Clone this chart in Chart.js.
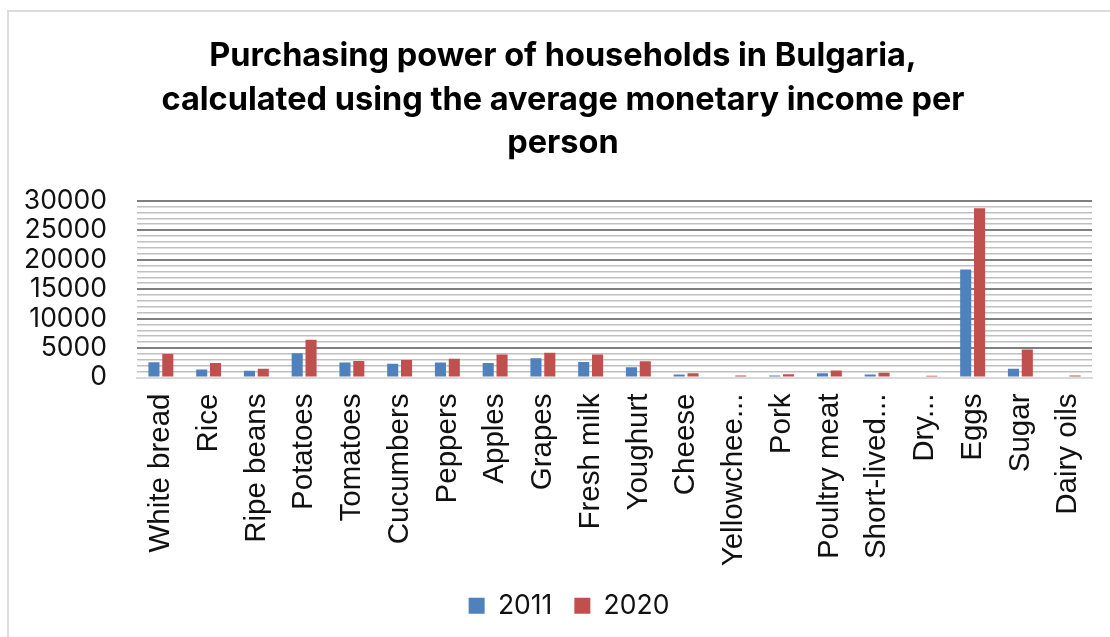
<!DOCTYPE html>
<html>
<head>
<meta charset="utf-8">
<script src="https://cdn.jsdelivr.net/npm/chart.js@4.4.1/dist/chart.umd.min.js"></script>
<style>
    html, body { margin: 0; padding: 0; background: #fff; overflow: hidden; }
    .chart-box {
        position: absolute;
        left: 7px;
        top: 10px;
        width: 1130px;
        height: 640px;
        border-top: 2px solid #dcdcdc;
        border-left: 2px solid #dcdcdc;
    }
    #myChart { display: block; }
</style>
</head>
<body>
<div class="chart-box">
    <canvas id="myChart" width="1110" height="625"></canvas>
</div>
<script>
const categories = ['White bread', 'Rice', 'Ripe beans', 'Potatoes', 'Tomatoes', 'Cucumbers', 'Peppers', 'Apples',
    'Grapes', 'Fresh milk', 'Youghurt', 'Cheese', 'Yellowchee...', 'Pork', 'Poultry meat', 'Short-lived...',
    'Dry...', 'Eggs', 'Sugar', 'Dairy oils'];

const values_2011 = [2600, 1350, 1150, 4100, 2550, 2350, 2550, 2450, 3250, 2650, 1750, 500, 170, 350, 700, 500,
    170, 18300, 1500, 170];
const values_2020 = [4000, 2450, 1500, 6400, 2800, 2950, 3200, 3900, 4200, 3900, 2750, 700, 350, 550, 1200, 800,
    280, 28700, 4750, 350];

const series_labels = ['2011', '2020'];
const y_max = 30000;
const y_minor_step = 1000;
const y_major_step = 5000;

const title_lines = [
    'Purchasing power of households in Bulgaria,',
    'calculated using the average monetary income per',
    'person'
];

// legend sits a bit right of the title's centre line
const legendShift = {
    id: 'legendShift',
    afterLayout(chart) {
        chart.legend.left += 6;
        chart.legend.right += 6;
    }
};

const data = {
    labels: categories,
    datasets: [
        {
            label: series_labels[0],
            backgroundColor: '#4f81bd',
            data: values_2011
        },
        {
            label: series_labels[1],
            backgroundColor: '#c0504d',
            data: values_2020
        }
    ]
};

const config = {
    type: 'bar',
    data: data,
    plugins: [legendShift],
    options: {
        responsive: false,
        animation: false,
        datasets: {
            bar: {
                categoryPercentage: 0.58,
                barPercentage: 0.8
            }
        },
        layout: {
            padding: { left: 25, right: 27, top: 0, bottom: 8 }
        },
        scales: {
            x: {
                grid: { display: false },
                border: { display: true, color: '#d9d9d9', width: 2 },
                ticks: {
                    color: '#111',
                    autoSkip: false,
                    minRotation: 90,
                    maxRotation: 90,
                    padding: 8,
                    font: { family: '"Liberation Sans", Arial, sans-serif', size: 29.5 }
                },
                afterFit: (scale) => { scale.height = 193; }
            },
            y: {
                min: 0,
                max: y_max,
                border: { display: false },
                grid: {
                    drawTicks: false,
                    color: (ctx) => {
                        if (ctx.tick.value === 0) return '#d9d9d9';
                        return ctx.tick.value % y_major_step === 0 ? '#808080' : '#c0c0c0';
                    },
                    lineWidth: (ctx) => ctx.tick.value % y_major_step === 0 ? 2 : 1.5
                },
                ticks: {
                    stepSize: y_minor_step,
                    autoSkip: false,
                    color: '#111',
                    padding: 30,
                    font: { family: 'Inter, sans-serif', size: 26.5 },
                    callback: (value) => value % y_major_step === 0 ? String(value) : ''
                },
                afterFit: (scale) => {
                    scale.width = 103;
                    // labels are wider than the narrow axis box, don't clip them
                    scale._computeLabelArea = () => undefined;
                }
            }
        },
        plugins: {
            title: {
                display: true,
                text: title_lines,
                color: '#000',
                font: { family: 'Inter, sans-serif', size: 32.5, weight: 'bold', lineHeight: 1.35 },
                padding: { top: 22, bottom: 35 }
            },
            legend: {
                position: 'bottom',
                labels: {
                    color: '#111',
                    boxWidth: 16,
                    boxHeight: 16,
                    padding: 22,
                    font: { family: 'Inter, sans-serif', size: 26.5 }
                }
            },
            tooltip: { enabled: false }
        }
    }
};

const ctx = document.getElementById('myChart').getContext('2d');
const myChart = new Chart(ctx, config);
</script>
</body>
</html>
